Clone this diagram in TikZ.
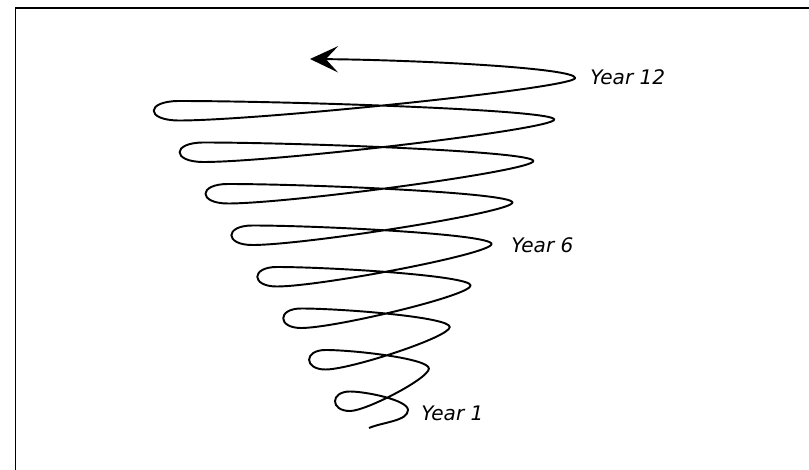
\documentclass[tikz,border=0pt]{standalone}
\usepackage{fontspec}
\setsansfont{DejaVu Sans}[ItalicFont={DejaVu Sans Oblique}]
\usetikzlibrary{arrows.meta}

\begin{document}
\begin{tikzpicture}[
  x=0.2mm, y=-0.2mm,
  spiral/.style={line width=1.1pt, black, line join=round},
  arr/.style={-{Stealth[length=16pt, width=15pt, inset=7pt]}},
  lbl/.style={anchor=base west, inner sep=0pt,
              font=\sffamily\itshape\fontsize{11.4}{13}\selectfont},
  frm/.style={line width=1.1pt, black},
]
\useasboundingbox (0,0) rectangle (809,470);

% Frame (cut off at the right and bottom)
\draw[frm] (15.5,470) -- (15.5,7.7) -- (809,7.7);

% Turning points of the spiral
\coordinate (S) at (369,428);
\coordinate (A) at (310,59);
\foreach \n in {0,...,8}
  \coordinate (R\n) at ({408+20.9*\n},{410-41.5*\n});
\foreach \n in {0,...,7} {
  \coordinate (T\n) at ({350-24.4*\n},{391.5-41.5*\n});
  \coordinate (B\n) at ({350-24.4*\n},{411-41.5*\n});
}

% Spiral, from year 1 up to the arrow
\draw[spiral, arr] (S) .. controls +(14,-6) and +(0,11) .. (R0)
  \foreach \n [count=\m] in {0,...,7} {
    .. controls +(0,-10) and +({0.27*(58+45.3*\n)},0) .. (T\n)
    .. controls +({-20-2*\n},0) and +({-20-2*\n},0) .. (B\n)
    .. controls +({0.2*(78.9+45.3*\n)},0) and +(0,10) .. (R\m)
  }
  .. controls +(0,-10) and +(110,1) .. (A);

% Labels
\node[lbl] (y1)  at (421,421) {Year 1};
\node[lbl] (y6)  at (511,253) {Year 6};
\node[lbl] (y12) at (590,85)  {Year 12};
\end{tikzpicture}
\end{document}
